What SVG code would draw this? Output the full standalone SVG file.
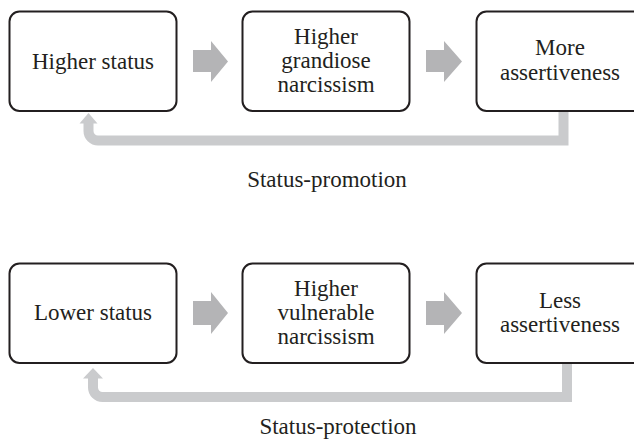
<svg xmlns="http://www.w3.org/2000/svg" width="634" height="447" viewBox="0 0 634 447">
<style>
.box{fill:#fff;stroke:#231f20;stroke-width:2}
.t{font-family:'Liberation Serif',Tinos,'Times New Roman',Times,'DejaVu Serif',serif;font-size:23px;fill:#231f20;text-anchor:middle}
.blk{fill:#b4b4b6}
.fb{fill:none;stroke:#cacbcd;stroke-width:10}
.fbh{fill:#cacbcd}
</style>
<rect width="634" height="447" fill="#fff"/>
<g id="connectors">
<polygon class="blk" points="193,50 211,50 211,41 228,61.5 211,82 211,72 193,72"/>
<polygon class="blk" points="426,50 444,50 444,41 462,61.5 444,82 444,72 426,72"/>
<path class="fb" d="M563.5,111 V140.5 H98 A9.5,9.5 0 0 1 88.5,131 V122"/>
<polygon class="fbh" points="79.5,123.5 88.5,113 97.5,123.5"/>
<polygon class="blk" points="193,301 211,301 211,292 228,313 211,334 211,325 193,325"/>
<polygon class="blk" points="426,301 444,301 444,292 462,313 444,334 444,325 426,325"/>
<path class="fb" d="M567,363 V397 H102.5 A9.5,9.5 0 0 1 93,387.5 V377"/>
<polygon class="fbh" points="83,378.5 93,368 103,378.5"/>
</g>
<g id="n1"><rect class="box" x="9.5" y="11.5" width="167" height="99.5" rx="10"/><text class="t" x="93" y="69" font-family="Liberation Serif, serif">Higher status</text></g>
<g id="n2"><rect class="box" x="242.5" y="11.5" width="167" height="99.5" rx="10"/><text class="t" x="326" y="44">Higher</text><text class="t" x="326" y="68">grandiose</text><text class="t" x="326" y="92">narcissism</text></g>
<g id="n3"><rect class="box" x="476.5" y="11.5" width="167" height="99.5" rx="10"/><text class="t" x="560" y="55">More</text><text class="t" x="560" y="80">assertiveness</text></g>
<text class="t" x="327" y="187">Status-promotion</text>
<g id="n4"><rect class="box" x="9.5" y="263.5" width="167" height="99.5" rx="10"/><text class="t" x="93" y="320">Lower status</text></g>
<g id="n5"><rect class="box" x="242.5" y="263.5" width="167" height="99.5" rx="10"/><text class="t" x="326" y="296">Higher</text><text class="t" x="326" y="320">vulnerable</text><text class="t" x="326" y="344">narcissism</text></g>
<g id="n6"><rect class="box" x="476.5" y="263.5" width="167" height="99.5" rx="10"/><text class="t" x="560" y="308">Less</text><text class="t" x="560" y="332">assertiveness</text></g>
<text class="t" x="338" y="434">Status-protection</text>
</svg>
